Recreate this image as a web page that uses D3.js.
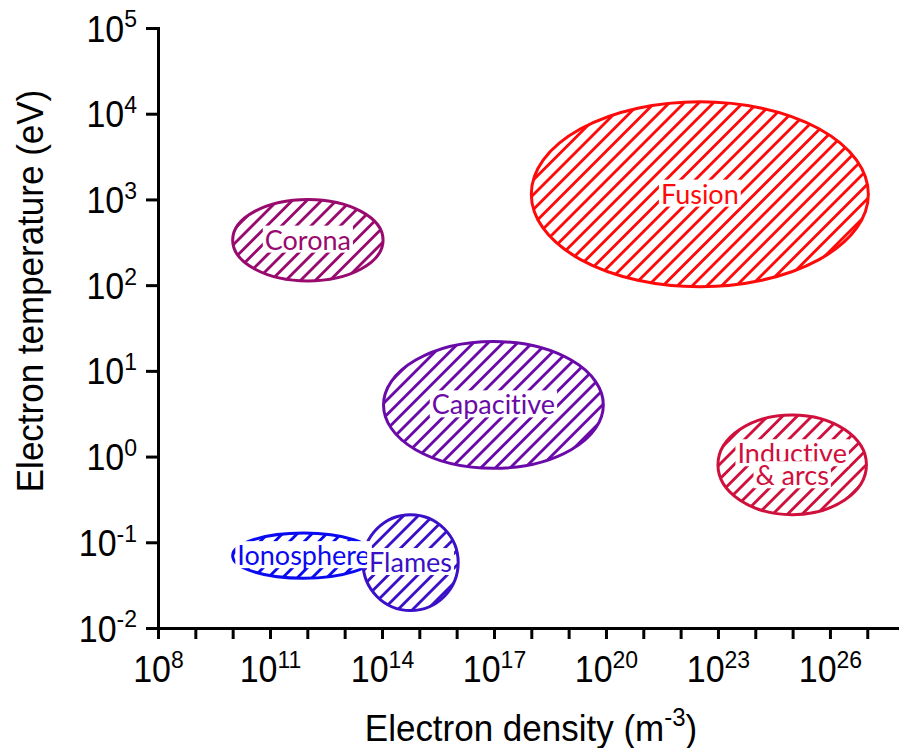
<!DOCTYPE html>
<meta charset="utf-8">
<style>

    body {
        margin: 0;
        background: #fff;
    }

    svg {
        display: block;
        font-family: Arial, "Liberation Sans", sans-serif;
    }

    .axis path,
    .axis line {
        stroke: #000;
        stroke-width: 3px;
    }

    .axis path {
        stroke-linecap: square;
    }

    .tick-label {
        font-size: 34px;
        fill: #000;
    }

    .region-label {
        font-family: Lato, "Open Sans", sans-serif;
        font-size: 27px;
        font-variant-ligatures: none;
    }

</style>

<svg width="899" height="748"></svg>

<script src="https://cdn.jsdelivr.net/npm/d3@7/dist/d3.min.js"></script>
<script>

    // plasma regions (density in m^-3, temperature in eV)
    var regionNames = ["Ionosphere", "Flames", "Corona", "Capacitive", "Inductive & arcs", "Fusion"];
    var labelLines  = [["Ionosphere"], ["Flames"], ["Corona"], ["Capacitive"], ["Inductive", "& arcs"], ["Fusion"]];
    var densityLow  = [1e10,   3.1e13, 1e10,    1.1e14, 1e23,   1e18];
    var densityHigh = [6.3e13, 1.1e16, 1.07e14, 8.5e19, 9.5e26, 1.07e27];
    var tempLow     = [0.038,  0.016,  112,     0.73,   0.21,   96];
    var tempHigh    = [0.128,  0.21,   1000,    22,     3.06,   13800];
    var regionColors = ["#0a0af0", "#3a10c8", "#990a6e", "#6a0aa8", "#d0103c", "#ff0a0a"];

    // axis ticks (powers of ten)
    var densityExponents = [8, 9, 10, 11, 12, 13, 14, 15, 16, 17, 18, 19, 20, 21, 22, 23, 24, 25, 26, 27];
    var densityLabelExponents = [8, 11, 14, 17, 20, 23, 26];
    var tempExponents = [-2, -1, 0, 1, 2, 3, 4, 5];

    var svg = d3.select("svg"),
            plotLeft = 158,
            plotTop = 28,
            plotBottom = 628,
            decadeWidth = 37.33,
            hatchGap = 10.4;

    var x = d3.scaleLog()
            .domain([1e8, 1e28])
            .range([plotLeft, plotLeft + 20 * decadeWidth]);

    var y = d3.scaleLog()
            .domain([1e-2, 1e5])
            .range([plotBottom, plotTop]);

    var color = d3.scaleOrdinal(regionNames, regionColors);

    var regions = regionNames.map(function(name, i) {
        return {
            name: name,
            lines: labelLines[i],
            n0: densityLow[i], n1: densityHigh[i],
            t0: tempLow[i], t1: tempHigh[i]
        };
    });

    // hatch pattern, one per colour
    var defs = svg.append("defs");
    defs.selectAll("pattern")
            .data(regions)
            .enter().append("pattern")
            .attr("id", function(d, i) { return "hatch" + i; })
            .attr("patternUnits", "userSpaceOnUse")
            .attr("width", hatchGap)
            .attr("height", hatchGap)
            .attr("patternTransform", "rotate(45)")
            .append("line")
            .attr("x1", hatchGap / 2).attr("x2", hatchGap / 2)
            .attr("y1", 0).attr("y2", hatchGap)
            .attr("stroke", function(d) { return color(d.name); })
            .attr("stroke-width", 2.8);

    // x axis
    var xAxis = svg.append("g")
            .attr("class", "axis axis--x")
            .attr("transform", "translate(0," + plotBottom + ")")
            .call(d3.axisBottom(x)
                    .tickValues(densityExponents.map(function(e) { return Math.pow(10, e); }))
                    .tickSize(11)
                    .tickSizeOuter(0)
                    .tickFormat(""));

    xAxis.selectAll(".tick text").remove();
    xAxis.selectAll(".tick")
            .filter(function(d) { return densityLabelExponents.indexOf(Math.round(Math.log10(d))) >= 0; })
            .append("text")
            .attr("class", "tick-label")
            .attr("transform", "translate(0,54) scale(1,1.08)")
            .attr("text-anchor", "middle")
            .call(powerLabel);

    // y axis
    var yAxis = svg.append("g")
            .attr("class", "axis axis--y")
            .attr("transform", "translate(" + plotLeft + ",0)")
            .call(d3.axisLeft(y)
                    .tickValues(tempExponents.map(function(e) { return Math.pow(10, e); }))
                    .tickSize(12)
                    .tickSizeOuter(0)
                    .tickFormat(""));

    yAxis.selectAll(".tick text").remove();
    yAxis.selectAll(".tick")
            .append("text")
            .attr("class", "tick-label")
            .attr("transform", "translate(-21,13) scale(1,1.08)")
            .attr("text-anchor", "end")
            .call(powerLabel);

    function powerLabel(sel) {
        sel.each(function(d) {
            var t = d3.select(this);
            t.append("tspan").text("10");
            t.append("tspan")
                    .attr("dy", -13)
                    .style("font-size", "23px")
                    .text(Math.round(Math.log10(d)));
        });
    }

    // axis titles
    var xTitle = svg.append("text")
            .attr("transform", "translate(531,741) scale(1,1.08)")
            .attr("text-anchor", "middle")
            .style("font-size", "35px");
    xTitle.append("tspan").text("Electron density (m");
    xTitle.append("tspan").attr("dy", -14).style("font-size", "24px").text("-3");
    xTitle.append("tspan").attr("dy", 14).text(")");

    svg.append("text")
            .attr("transform", "translate(43,291) rotate(-90) scale(1,1.08)")
            .attr("text-anchor", "middle")
            .style("font-size", "35px")
            .text("Electron temperature (eV)");

    // region ellipses
    svg.selectAll(".region")
            .data(regions)
            .enter().append("ellipse")
            .attr("class", "region")
            .attr("cx", function(d) { return (x(d.n0) + x(d.n1)) / 2; })
            .attr("cy", function(d) { return (y(d.t0) + y(d.t1)) / 2; })
            .attr("rx", function(d) { return (x(d.n1) - x(d.n0)) / 2; })
            .attr("ry", function(d) { return (y(d.t0) - y(d.t1)) / 2; })
            .attr("fill", function(d, i) { return "url(#hatch" + i + ")"; })
            .attr("stroke", function(d) { return color(d.name); })
            .attr("stroke-width", 3);

    // labels with a white box behind them
    regions.forEach(function(d) {
        var cx = (x(d.n0) + x(d.n1)) / 2,
                cy = (y(d.t0) + y(d.t1)) / 2,
                lineGap = 22,
                g = svg.append("g").attr("class", "region-label");

        d.lines.forEach(function(line, k) {
            var ly = cy + (k - (d.lines.length - 1) / 2) * lineGap;
            var bg = g.append("rect").attr("fill", "#fff");
            var txt = g.append("text")
                    .attr("x", cx)
                    .attr("y", ly)
                    .attr("dy", "0.35em")
                    .attr("text-anchor", "middle")
                    .attr("fill", color(d.name))
                    .text(line);
            var b = txt.node().getBBox();
            bg.attr("x", b.x - 2).attr("y", b.y + 3)
                    .attr("width", b.width + 4).attr("height", b.height - 6);
        });
    });

</script>
